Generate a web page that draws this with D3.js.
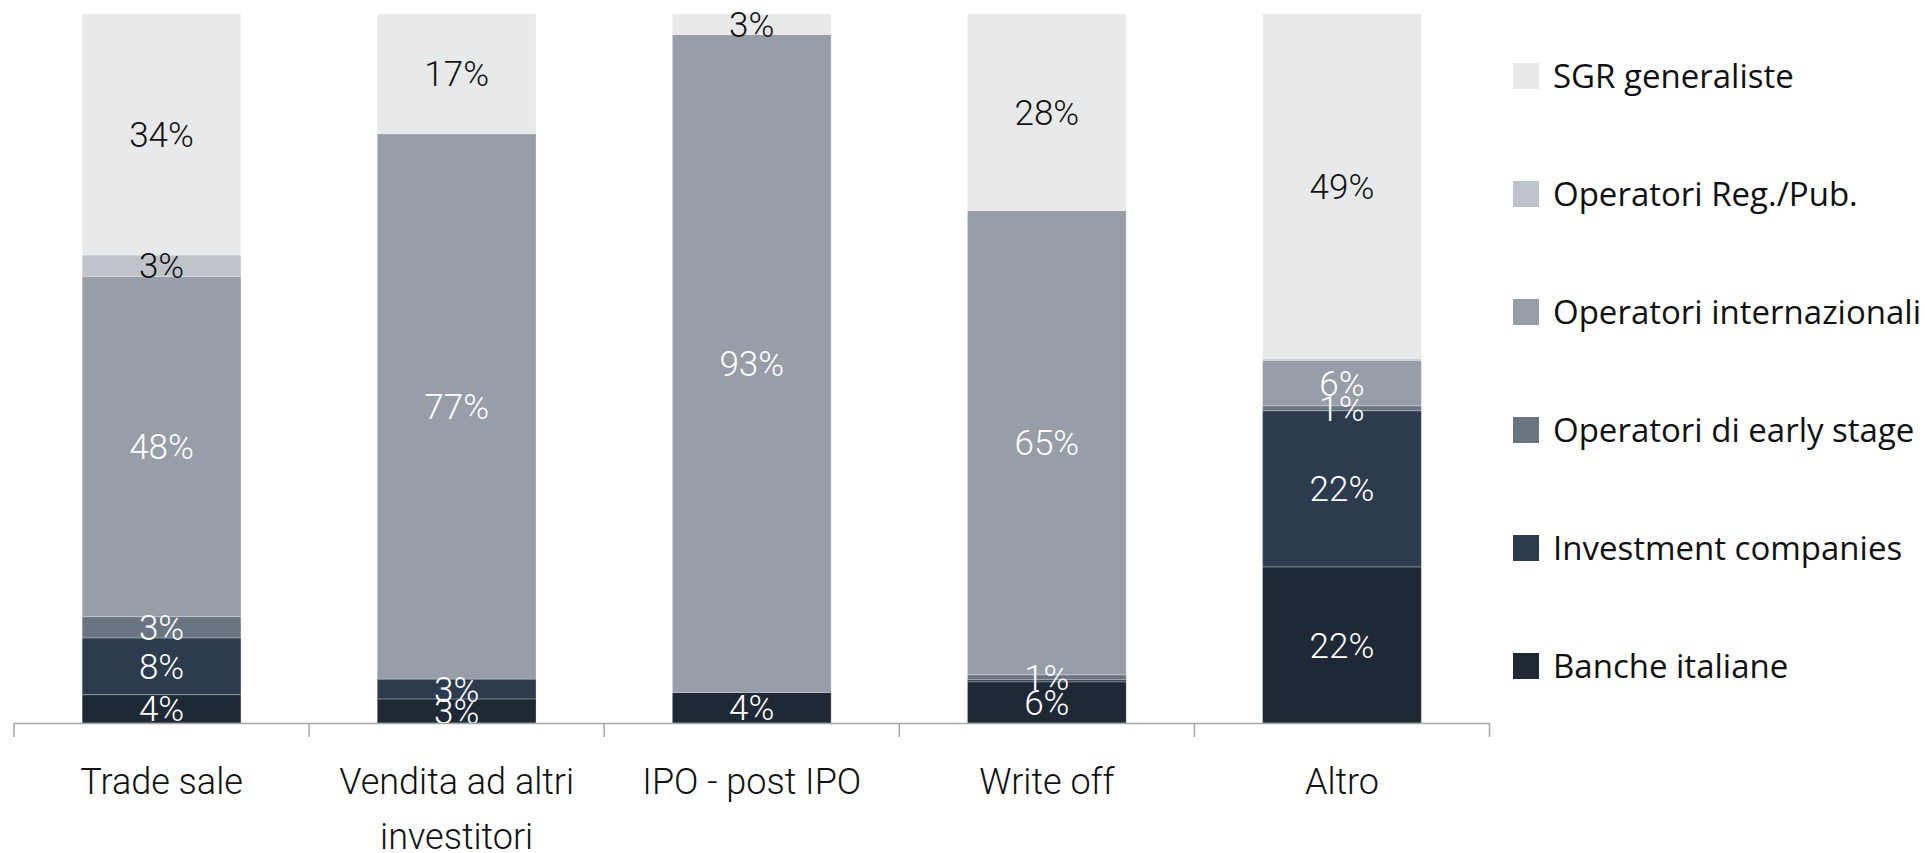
<!DOCTYPE html>
<html>
<head>
<meta charset="utf-8">
<script src="https://cdn.jsdelivr.net/npm/d3@7"></script>
<style>
  body { margin: 0; background: #fff; }
</style>
</head>
<body>
<div id="chart"></div>
<script>
const categories = ["Trade sale", "Vendita ad altri investitori", "IPO - post IPO", "Write off", "Altro"];
const seriesNames = ["Banche italiane", "Investment companies", "Operatori di early stage",
                     "Operatori internazionali", "Operatori Reg./Pub.", "SGR generaliste"];
const seriesColors = ["#1f2935", "#2c3b4e", "#6a7582", "#979ea8", "#bfc4cb", "#e8e9eb"];

// quote % per categoria (stesso ordine di categories)
const banche         = [4, 3.4, 4.3, 5.8, 22];
const investment     = [8, 2.8, 0, 0.3, 22];
const earlyStage     = [3, 0, 0, 0.7, 0.7];
const internazionali = [48, 77, 92.8, 65.4, 6.4];
const regPub         = [3, 0, 0, 0, 0.2];
const sgr            = [34, 16.9, 2.9, 27.7, 48.6];

const seriesValues = [banche, investment, earlyStage, internazionali, regPub, sgr];
const darkText = ["Operatori Reg./Pub.", "SGR generaliste"];

const width = 1925, height = 853;
const axisY = 723, topY = 14;

const svg = d3.select("#chart")
    .append("svg")
    .attr("width", width)
    .attr("height", height);

const table = categories.map((c, i) => {
    const row = {category: c};
    seriesNames.forEach((s, j) => row[s] = seriesValues[j][i]);
    return row;
});

const stacked = d3.stack()
    .keys(seriesNames)
    .offset(d3.stackOffsetExpand)(table);

const x = d3.scaleBand()
    .domain(categories)
    .range([14, 1489.5])
    .paddingInner(0.462)
    .paddingOuter(0.231);

const y = d3.scaleLinear()
    .domain([0, 1])
    .range([axisY, topY]);

const color = d3.scaleOrdinal().domain(seriesNames).range(seriesColors);

svg.append("clipPath")
    .attr("id", "plot-clip")
    .append("rect")
    .attr("x", 0).attr("y", 0)
    .attr("width", 1500).attr("height", axisY);

const plot = svg.append("g").attr("clip-path", "url(#plot-clip)");

const layers = plot.selectAll(".layer")
    .data(stacked)
    .enter().append("g")
    .attr("class", "layer")
    .attr("fill", d => color(d.key));

layers.selectAll("rect")
    .data(d => d)
    .enter().append("rect")
    .attr("x", d => x(d.data.category))
    .attr("y", d => y(d[1]))
    .attr("width", x.bandwidth())
    .attr("height", d => y(d[0]) - y(d[1]))
    .attr("stroke", "rgba(255,255,255,0.25)")
    .attr("stroke-width", 1);

// etichette dentro i segmenti
stacked.forEach(layer => {
    plot.selectAll(null)
        .data(layer.filter(d => Math.round(d.data[layer.key]) >= 1))
        .enter().append("text")
        .attr("x", d => x(d.data.category) + x.bandwidth() / 2)
        .attr("y", d => (y(d[0]) + y(d[1])) / 2)
        .attr("dy", "0.36em")
        .attr("text-anchor", "middle")
        .attr("font-family", "Roboto, sans-serif")
        .attr("font-weight", 300)
        .attr("font-size", "35px")
        .attr("fill", darkText.includes(layer.key) ? "#111" : "#fff")
        .text(d => `${Math.round(d.data[layer.key])}%`);
});

// asse X
const xAxis = svg.append("g")
    .attr("transform", `translate(0,${axisY})`)
    .call(d3.axisBottom(x).tickSize(0).tickSizeOuter(0));

xAxis.select(".domain").attr("stroke", "#a6a6a6").attr("stroke-width", 1.5);

xAxis.selectAll(".tick text")
    .attr("y", 45)
    .attr("dy", "0.71em")
    .attr("font-family", "Roboto, sans-serif")
    .attr("font-weight", 300)
    .attr("font-size", "36px")
    .attr("fill", "#111")
    .call(wrap, x.step() - 10);

// tacche ai bordi delle categorie
xAxis.selectAll(".sep")
    .data(d3.range(categories.length + 1))
    .enter().append("line")
    .attr("x1", i => x.range()[0] + i * x.step())
    .attr("x2", i => x.range()[0] + i * x.step())
    .attr("y1", 0)
    .attr("y2", 14)
    .attr("stroke", "#a6a6a6")
    .attr("stroke-width", 1.5);

// legenda
const legendY = d3.scalePoint()
    .domain(seriesNames.slice().reverse())
    .range([76, 666]);

const legend = svg.append("g");

legend.selectAll("rect")
    .data(seriesNames)
    .enter().append("rect")
    .attr("x", 1513)
    .attr("y", d => legendY(d) - 13)
    .attr("width", 26)
    .attr("height", 26)
    .attr("fill", d => color(d));

legend.selectAll("text")
    .data(seriesNames)
    .enter().append("text")
    .attr("x", 1553)
    .attr("y", d => legendY(d))
    .attr("dy", "0.35em")
    .attr("font-family", "'Open Sans', sans-serif")
    .attr("font-size", "33px")
    .attr("fill", "#111")
    .text(d => d);

function wrap(text, w) {
    text.each(function () {
        const t = d3.select(this);
        const words = t.text().split(/\s+/);
        const yy = t.attr("y"), dy = parseFloat(t.attr("dy"));
        let line = [];
        let lineNo = 0;
        let tspan = t.text(null).append("tspan").attr("x", 0).attr("y", yy).attr("dy", dy + "em");
        words.forEach(word => {
            line.push(word);
            tspan.text(line.join(" "));
            if (tspan.node().getComputedTextLength() > w && line.length > 1) {
                line.pop();
                tspan.text(line.join(" "));
                line = [word];
                tspan = t.append("tspan").attr("x", 0).attr("y", yy)
                    .attr("dy", (++lineNo * 1.55 + dy) + "em").text(word);
            }
        });
    });
}
</script>
</body>
</html>
